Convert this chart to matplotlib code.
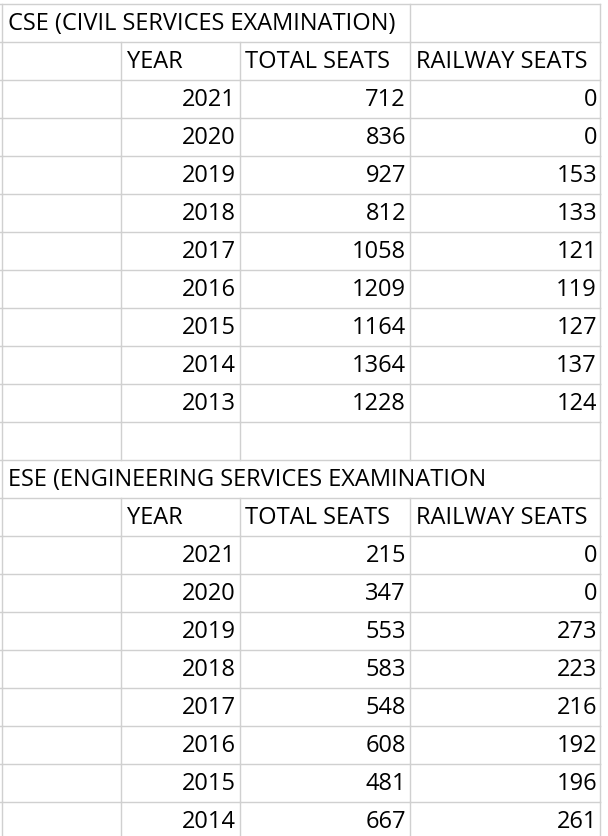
import matplotlib.pyplot as plt

cse_title = "CSE (CIVIL SERVICES EXAMINATION)"
ese_title = "ESE (ENGINEERING SERVICES EXAMINATION"
headers = ["YEAR", "TOTAL SEATS", "RAILWAY SEATS"]
cse_years = [2021, 2020, 2019, 2018, 2017, 2016, 2015, 2014, 2013]
cse_total = [712, 836, 927, 812, 1058, 1209, 1164, 1364, 1228]
cse_rail = [0, 0, 153, 133, 121, 119, 127, 137, 124]
ese_years = [2021, 2020, 2019, 2018, 2017, 2016, 2015, 2014]
ese_total = [215, 347, 553, 583, 548, 608, 481, 667]
ese_rail = [0, 0, 273, 223, 216, 192, 196, 261]

W, H = 608, 836
fig = plt.figure(figsize=(W/100, H/100), dpi=100)
ax = fig.add_axes([0, 0, 1, 1])
ax.set_xlim(0, W); ax.set_ylim(H, 0); ax.axis('off')

top, rh = 4, 38.0
cols = [2, 121, 240, 410, 600]
nrows = 23
gc = '#d0d0d0'
fs = 17
fam = ['Open Sans', 'DejaVu Sans']

def rowy(i):
    return top + i*rh

for i in range(nrows):
    ax.plot([0, 600], [rowy(i), rowy(i)], color=gc, lw=1)
for i in range(nrows - 1):
    y0, y1 = rowy(i), rowy(i+1)
    for c in cols:
        if i == 12 and c in (121, 240, 410):
            continue
        if i == 0 and c in (121, 240):
            continue
        ax.plot([c, c], [y0, y1], color=gc, lw=1)

def cy(i):
    return rowy(i) + rh/2 + 1.5

def table(start, title, years, total, rail):
    ax.text(8, cy(start), title, fontsize=fs, family=fam, va='center', ha='left')
    for x, h in zip([127, 245, 416], headers):
        ax.text(x, cy(start+1), h, fontsize=fs, family=fam, va='center', ha='left')
    for k, (yr, t, r) in enumerate(zip(years, total, rail)):
        i = start + 2 + k
        ax.text(236, cy(i), str(yr), fontsize=fs, family=fam, va='center', ha='right')
        ax.text(406, cy(i), str(t), fontsize=fs, family=fam, va='center', ha='right')
        ax.text(597, cy(i), str(r), fontsize=fs, family=fam, va='center', ha='right')

table(0, cse_title, cse_years, cse_total, cse_rail)
table(12, ese_title, ese_years, ese_total, ese_rail)

fig.savefig('out.png', dpi=100, facecolor='white')
